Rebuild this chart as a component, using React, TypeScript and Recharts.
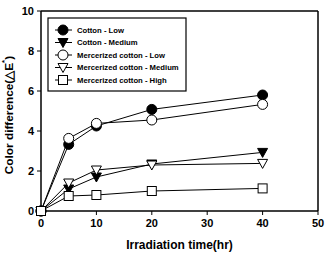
import React from 'react';
import { LineChart, Line, XAxis, YAxis, ReferenceLine } from 'recharts';

const times = [0, 5, 10, 20, 40];
const cottonLow = [0, 3.33, 4.25, 5.08, 5.8];
const cottonMedium = [0, 1.1, 1.7, 2.35, 2.93];
const mercLow = [0, 3.63, 4.38, 4.55, 5.33];
const mercMedium = [0, 1.4, 2.05, 2.3, 2.38];
const mercHigh = [0, 0.75, 0.8, 1.0, 1.13];

const xTicks = [0, 10, 20, 30, 40, 50];
const yTicks = [0, 2, 4, 6, 8, 10];

type Marker = 'circle' | 'triangle' | 'square';

const series: { key: string; name: string; values: number[]; marker: Marker; fill: string }[] = [
  { key: 'cottonLow', name: 'Cotton - Low', values: cottonLow, marker: 'circle', fill: '#000' },
  { key: 'cottonMedium', name: 'Cotton - Medium', values: cottonMedium, marker: 'triangle', fill: '#000' },
  { key: 'mercLow', name: 'Mercerized cotton - Low', values: mercLow, marker: 'circle', fill: '#fff' },
  { key: 'mercMedium', name: 'Mercerized cotton - Medium', values: mercMedium, marker: 'triangle', fill: '#fff' },
  { key: 'mercHigh', name: 'Mercerized cotton - High', values: mercHigh, marker: 'square', fill: '#fff' },
];

const rows = times.map((t, i) => {
  const row: Record<string, number> = { time: t };
  series.forEach((s) => {
    row[s.key] = s.values[i];
  });
  return row;
});

const FONT = '"Liberation Sans", Arial, sans-serif';

function MarkerShape({ cx, cy, marker, fill }: { cx: number; cy: number; marker: Marker; fill: string }) {
  if (marker === 'circle') {
    return <circle cx={cx} cy={cy} r={5} fill={fill} stroke="#000" strokeWidth={1} />;
  }
  if (marker === 'triangle') {
    return (
      <polygon
        points={`${cx - 5},${cy - 4} ${cx + 5},${cy - 4} ${cx},${cy + 5}`}
        fill={fill}
        stroke="#000"
        strokeWidth={1}
      />
    );
  }
  return <rect x={cx - 4.5} y={cy - 4.5} width={9} height={9} fill={fill} stroke="#000" strokeWidth={1} />;
}

function YTitle({ viewBox }: any) {
  const cx = 9;
  const cy = viewBox.y + viewBox.height / 2 + 4;
  return (
    <text
      x={cx}
      y={cy}
      transform={`rotate(-90, ${cx}, ${cy})`}
      textAnchor="middle"
      dominantBaseline="central"
      fontFamily={FONT}
      fontWeight="bold"
      fontSize={11.8}
      fill="#000"
    >
      Color difference(△E<tspan dy={-5} fontSize={8}>*</tspan>
      <tspan dy={5}>)</tspan>
    </text>
  );
}

function LegendBox() {
  return (
    <svg width={140} height={75} style={{ position: 'absolute', left: 47, top: 17 }}>
      <rect x={1} y={1} width={138} height={73} fill="#fff" stroke="#000" strokeWidth={1.2} />
      {series.map((s, i) => {
        const y = 13 + i * 12.5;
        return (
          <g key={s.key}>
            <line x1={8} x2={25} y1={y} y2={y} stroke="#000" strokeWidth={1} />
            <MarkerShape cx={16} cy={y} marker={s.marker} fill={s.fill} />
            <text
              x={30}
              y={y}
              dominantBaseline="central"
              fontFamily={FONT}
              fontWeight="bold"
              fontSize={7.7}
              fill="#000"
            >
              {s.name}
            </text>
          </g>
        );
      })}
    </svg>
  );
}

export default function App() {
  const tickStyle = { fontFamily: FONT, fontWeight: 'bold', fontSize: 11, fill: '#000' };
  return (
    <div style={{ position: 'absolute', left: 0, top: 0, width: 326, height: 253, background: '#fff' }}>
      <LineChart width={326} height={253} data={rows} margin={{ top: 11, right: 8, bottom: 0, left: 0 }}>
        <XAxis
          dataKey="time"
          type="number"
          domain={[0, 50]}
          ticks={xTicks}
          height={42}
          tickSize={4}
          tickMargin={4}
          tick={tickStyle}
          axisLine={{ stroke: '#000', strokeWidth: 1.5 }}
          tickLine={{ stroke: '#000' }}
          label={{
            value: 'Irradiation time(hr)',
            position: 'insideBottom',
            offset: 4,
            style: { fontFamily: FONT, fontWeight: 'bold', fontSize: 12, fill: '#000' },
          }}
        />
        <YAxis
          type="number"
          domain={[0, 10]}
          ticks={yTicks}
          width={41}
          tickSize={4}
          tickMargin={3}
          tick={tickStyle}
          axisLine={{ stroke: '#000', strokeWidth: 1.5 }}
          tickLine={{ stroke: '#000' }}
          label={<YTitle />}
        />
        <ReferenceLine y={10} stroke="#000" strokeWidth={1.5} />
        <ReferenceLine x={50} stroke="#000" strokeWidth={1.5} />
        {series.map((s) => (
          <Line
            key={s.key}
            type="linear"
            dataKey={s.key}
            name={s.name}
            stroke="#000"
            strokeWidth={1}
            isAnimationActive={false}
            dot={(p: any) => <MarkerShape key={`${s.key}-${p.index}`} cx={p.cx} cy={p.cy} marker={s.marker} fill={s.fill} />}
            activeDot={false}
          />
        ))}
      </LineChart>
      <LegendBox />
    </div>
  );
}
